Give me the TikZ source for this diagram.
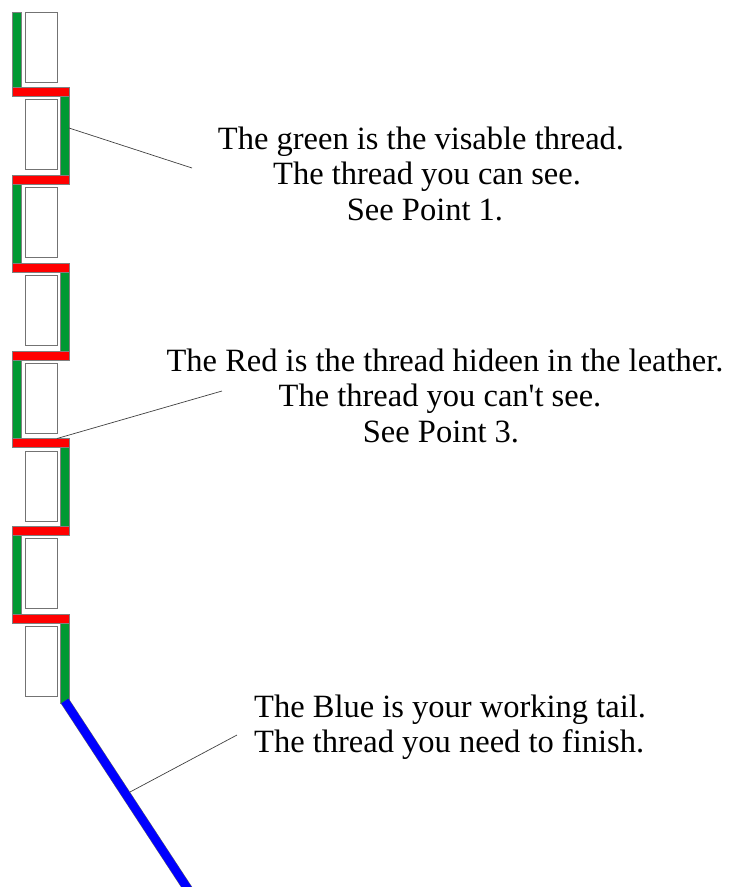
\documentclass[tikz,border=0pt]{standalone}
\usepackage{fontspec}
\setmainfont{Liberation Serif}
% plain family without TeX ligature mapping, so ' stays a straight quote
\newfontfamily\capfont{Liberation Serif}
\definecolor{threadgreen}{RGB}{0,153,51}
\definecolor{threadred}{RGB}{255,0,0}
\definecolor{threadblue}{RGB}{0,0,255}
\begin{document}
\begin{tikzpicture}[x=1pt,y=-1pt,
  hole/.style={draw=black!55,line width=0.9pt,fill=white},
  visible/.style={draw=black!50,line width=0.4pt,fill=threadgreen},
  hidden/.style={draw=black!50,line width=0.4pt,fill=threadred},
  leader/.style={draw=black!75,line width=0.7pt},
  caption/.style={inner sep=0pt,anchor=base,font=\capfont\fontsize{32.5}{36}\selectfont}]
\useasboundingbox (0,0) rectangle (738,887);
\def\pitch{87.8}
% stitch holes
\foreach \k in {0,...,7}{
  \pgfmathsetmacro\top{12+\pitch*\k}
  \draw[hole] (25,\top) rectangle (57,\top+70);
}
% visible thread, alternating sides
\foreach \k in {0,...,7}{
  \pgfmathsetmacro\ya{ifthenelse(\k==0,12,96.3+\pitch*(\k-1))}
  \pgfmathsetmacro\yb{ifthenelse(\k==7,703,87.3+\pitch*\k)}
  \pgfmathsetmacro\xa{ifthenelse(mod(\k,2)==0,12,60)}
  \draw[visible] (\xa,\ya) rectangle (\xa+9.2,\yb);
}
% hidden thread through the leather
\foreach \j in {0,...,6}{
  \pgfmathsetmacro\ya{87.3+\pitch*\j}
  \draw[hidden] (12,\ya) rectangle (69,\ya+9);
}
% working tail
\coordinate (tailA) at (64.8,701);
\coordinate (tailB) at (190.5,893);
\begin{scope}
  \clip (0,0) rectangle (738,887);
  \draw[black!60,line width=9.4pt] (tailA) -- (tailB);
  \draw[threadblue,line width=8.4pt] (tailA) -- (tailB);
\end{scope}
% captions
\node[caption] (g1) at (421,149) {The green is the visable thread.};
\node[caption] (g2) at (427,184.5) {The thread you can see.};
\node[caption] (g3) at (425,220) {See Point 1.};
\node[caption] (r1) at (445,371) {The Red is the thread hideen in the leather.};
\node[caption] (r2) at (440,406.5) {The thread you can't see.};
\node[caption] (r3) at (441,442) {See Point 3.};
\node[caption,anchor=base west] (b1) at (254,717) {The Blue is your working tail.};
\node[caption,anchor=base west] (b2) at (254,752) {The thread you need to finish.};
% leader lines
\coordinate (gFrom) at (69,128);
\coordinate (gTo) at (192,168);
\coordinate (rFrom) at (57,438.5);
\coordinate (rTo) at (222,391);
\coordinate (bFrom) at (130,792);
\coordinate (bTo) at (237,735);
\draw[leader] (gFrom) -- (gTo);
\draw[leader] (rFrom) -- (rTo);
\draw[leader] (bFrom) -- (bTo);
\end{tikzpicture}
\end{document}
